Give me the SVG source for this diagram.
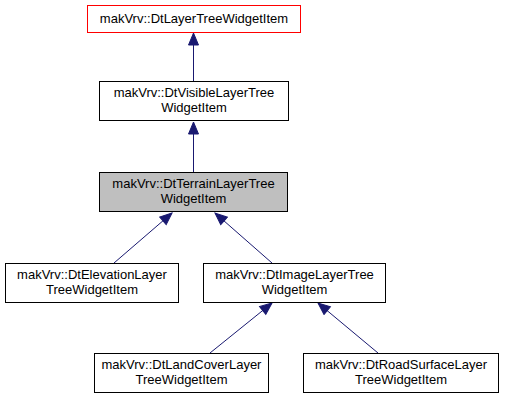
<svg xmlns="http://www.w3.org/2000/svg" width="505" height="400" viewBox="0 0 505 400">
<defs>
<style>
.box{fill:#ffffff;stroke:#000000;stroke-width:1}
.t{font-family:"Liberation Sans",Arial,sans-serif;font-size:13px;fill:#000000;text-anchor:middle}
.e{stroke:#191970;stroke-width:1;fill:none;marker-end:url(#ah)}
</style>
<marker id="ah" markerUnits="userSpaceOnUse" markerWidth="14" markerHeight="12" viewBox="-13 -6 14 12" refX="0" refY="0" orient="auto">
<path d="M0,0 L-12,-5 L-12,5 Z" fill="#191970" stroke="#191970" stroke-width="1"/>
</marker>
</defs>
<rect width="505" height="400" fill="#ffffff"/>
<g id="edges">
<line class="e" x1="193.5" y1="81" x2="193.5" y2="33"/>
<line class="e" x1="193.5" y1="172" x2="193.5" y2="122"/>
<line class="e" x1="114" y1="263" x2="172" y2="213"/>
<line class="e" x1="272" y1="263" x2="215" y2="213"/>
<line class="e" x1="210" y1="353" x2="272" y2="303"/>
<line class="e" x1="378" y1="353" x2="318" y2="303"/>
</g>
<g id="n1">
<rect class="box" x="87.5" y="5.5" width="213" height="27" style="stroke:#ff0000"/>
<text class="t" x="194" y="23">makVrv::DtLayerTreeWidgetItem</text>
</g>
<g id="n2">
<rect class="box" x="99.5" y="81.5" width="189" height="39"/>
<text class="t" x="194" y="97">makVrv::DtVisibleLayerTree</text>
<text class="t" x="194" y="112">WidgetItem</text>
</g>
<g id="n3">
<rect class="box" x="99.5" y="172.5" width="188" height="39" style="fill:#bfbfbf"/>
<text class="t" x="193.5" y="188">makVrv::DtTerrainLayerTree</text>
<text class="t" x="193.5" y="203">WidgetItem</text>
</g>
<g id="n4">
<rect class="box" x="5.5" y="263.5" width="173" height="39"/>
<text class="t" x="92" y="279">makVrv::DtElevationLayer</text>
<text class="t" x="92" y="294">TreeWidgetItem</text>
</g>
<g id="n5">
<rect class="box" x="203.5" y="263.5" width="182" height="39"/>
<text class="t" x="294.5" y="279">makVrv::DtImageLayerTree</text>
<text class="t" x="294.5" y="294">WidgetItem</text>
</g>
<g id="n6">
<rect class="box" x="94.5" y="353.5" width="174" height="39"/>
<text class="t" x="181.5" y="369">makVrv::DtLandCoverLayer</text>
<text class="t" x="181.5" y="384">TreeWidgetItem</text>
</g>
<g id="n7">
<rect class="box" x="303.5" y="353.5" width="195" height="39"/>
<text class="t" x="401" y="369">makVrv::DtRoadSurfaceLayer</text>
<text class="t" x="401" y="384">TreeWidgetItem</text>
</g>
</svg>
